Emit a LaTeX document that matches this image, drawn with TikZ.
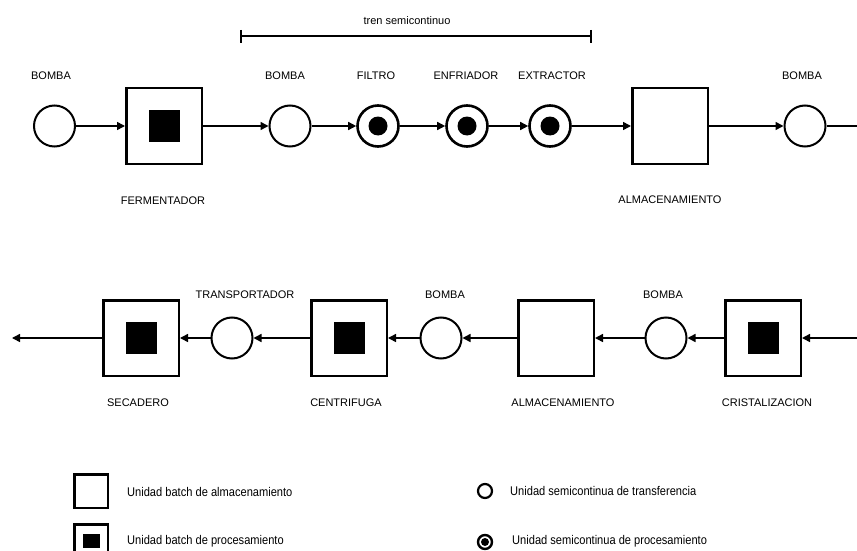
\documentclass[tikz,border=0pt]{standalone}
\usepackage{fontspec}
\setmainfont{Liberation Sans}
\newfontfamily\legfont[FakeStretch=0.88]{Liberation Sans}
\usetikzlibrary{arrows.meta}
\begin{document}
\begin{tikzpicture}[x=1pt,y=-1pt,
  lbl/.style={font=\fontsize{11}{13}\selectfont, inner sep=0pt},
  leg/.style={font=\legfont\fontsize{12.6}{14}\selectfont, inner sep=0pt, anchor=west},
  batchs/.style={draw, line width=2.5pt, minimum size=75.5pt, inner sep=0pt},
  batchp/.style={batchs, path picture={\fill ([shift={(-15.5pt,-16pt)}]path picture bounding box.center) rectangle ++(31pt,32pt);}},
  semit/.style={draw, circle, line width=2pt, minimum size=41pt, inner sep=0pt},
  semip/.style={semit, line width=2.6pt, path picture={\fill (path picture bounding box.center) circle (9.5pt);}},
  flow/.style={line width=1.5pt, -{Triangle[length=8pt,width=8pt]}},
  bar/.style={line width=2pt}
]
\useasboundingbox (0,0) rectangle (857,551);
% top row
\node[semit]  (b1)   at (54.5,126) {};
\node[batchp] (ferm) at (164,126) {};
\node[semit]  (b2)   at (290,126) {};
\node[semip]  (fil)  at (378,126) {};
\node[semip]  (enf)  at (467,126) {};
\node[semip]  (ext)  at (550,126) {};
\node[batchs] (alm1) at (670,126) {};
\node[semit]  (b3)   at (805,126) {};
\coordinate (e1) at (857,126);
\draw[flow] (b1) -- (ferm);
\draw[flow] (ferm) -- (b2);
\draw[flow] (b2) -- (fil);
\draw[flow] (fil) -- (enf);
\draw[flow] (enf) -- (ext);
\draw[flow] (ext) -- (alm1);
\draw[flow] (alm1) -- (b3);
\draw[line width=1.5pt] (b3) -- (e1);
% top labels
\node[lbl] (lb1) at (51,76) {BOMBA};
\node[lbl] (lferm) at (163,201) {FERMENTADOR};
\node[lbl] (lb2) at (285,76) {BOMBA};
\node[lbl] (lfil) at (376,76) {FILTRO};
\node[lbl] (lenf) at (466,76) {ENFRIADOR};
\node[lbl] (lext) at (552,76) {EXTRACTOR};
\node[lbl] (lb3) at (802,76) {BOMBA};
\node[lbl] (lalm1) at (670,200) {ALMACENAMIENTO};
% tren semicontinuo
\node[lbl] (ltren) at (407,21) {tren semicontinuo};
\coordinate (tl) at (241,36);
\coordinate (tr) at (591,36);
\draw[bar] (tl) -- (tr);
\draw[bar] ([yshift=6pt]tl) -- ([yshift=-7pt]tl);
\draw[bar] ([yshift=6pt]tr) -- ([yshift=-7pt]tr);
% bottom row
\coordinate (e2) at (857,338);
\node[batchp] (cri)  at (763,338) {};
\node[semit]  (b4)   at (666,338) {};
\node[batchs] (alm2) at (556,338) {};
\node[semit]  (b5)   at (441,338) {};
\node[batchp] (cen)  at (349,338) {};
\node[semit]  (tra)  at (232,338) {};
\node[batchp] (sec)  at (141,338) {};
\coordinate (e3) at (12,338);
\draw[flow] (e2) -- (cri);
\draw[flow] (cri) -- (b4);
\draw[flow] (b4) -- (alm2);
\draw[flow] (alm2) -- (b5);
\draw[flow] (b5) -- (cen);
\draw[flow] (cen) -- (tra);
\draw[flow] (tra) -- (sec);
\draw[flow] (sec) -- (e3);
% bottom labels
\node[lbl] (ltra) at (245,295) {TRANSPORTADOR};
\node[lbl] (lb5) at (445,295) {BOMBA};
\node[lbl] (lb4) at (663,295) {BOMBA};
\node[lbl] (lsec) at (138,403) {SECADERO};
\node[lbl] (lcen) at (346,403) {CENTRIFUGA};
\node[lbl] (lalm2) at (563,403) {ALMACENAMIENTO};
\node[lbl] (lcri) at (767,403) {CRISTALIZACION};
% legend
\node[draw, line width=2.5pt, minimum size=33.5pt, inner sep=0pt] (k1) at (91,491) {};
\node[leg] (t1) at (127,492) {Unidad batch de almacenamiento};
\node[draw, line width=2.5pt, minimum size=33.5pt, inner sep=0pt,
  path picture={\fill ([shift={(-8.5pt,-7pt)}]path picture bounding box.center) rectangle ++(17pt,14pt);}] (k2) at (91,541) {};
\node[leg] (t2) at (127,541) {Unidad batch de procesamiento};
\node[draw, circle, line width=2.2pt, minimum size=14pt, inner sep=0pt] (k3) at (485,491) {};
\node[leg] (t3) at (510,491) {Unidad semicontinua de transferencia};
\node[draw, circle, line width=2.4pt, minimum size=14pt, inner sep=0pt,
  path picture={\fill (path picture bounding box.center) circle (4pt);}] (k4) at (485,542) {};
\node[leg] (t4) at (512,541) {Unidad semicontinua de procesamiento};
\end{tikzpicture}
\end{document}
